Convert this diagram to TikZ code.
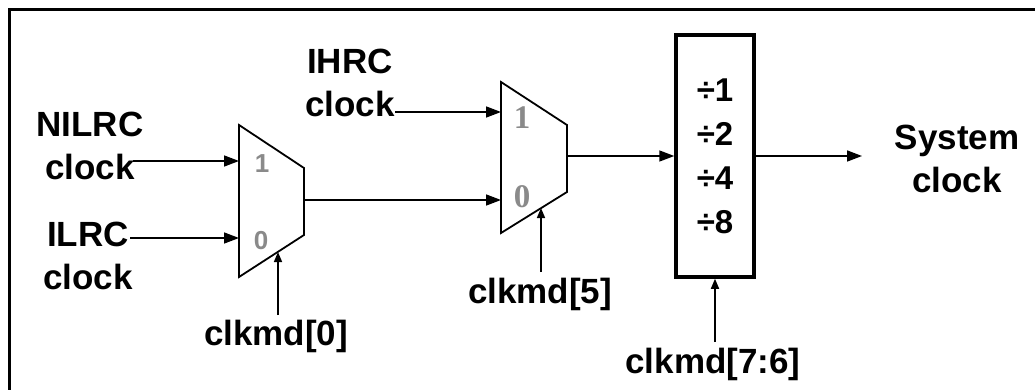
\documentclass[tikz,border=0pt]{standalone}
\usepackage{fontspec}
\setmainfont{Liberation Sans}
\newfontfamily\serifnum{Liberation Serif}
\usetikzlibrary{arrows.meta}
\definecolor{pingrey}{HTML}{8A8A8A}
\begin{document}
\begin{tikzpicture}[x=1pt,y=-1pt,
  wire/.style={line width=1.6pt,-{Triangle[length=15pt,width=11pt]}},
  selwire/.style={line width=1.6pt,-{Triangle[length=10pt,width=8pt]}},
  muxshape/.style={line width=1.8pt, line join=miter},
  lbl/.style={font=\fontsize{35}{43}\selectfont\bfseries, align=center, inner sep=0pt},
  pin/.style={font=\fontsize{26}{26}\selectfont\bfseries, text=pingrey, inner sep=0pt},
  pinserif/.style={font=\serifnum\bfseries\fontsize{33}{33}\selectfont, text=pingrey, inner sep=0pt},
  divbox/.style={draw, line width=3.5pt, minimum width=78pt, minimum height=242pt, inner sep=0pt, align=center, font=\fontsize{33}{44}\selectfont\bfseries}
]
\useasboundingbox (0,0) rectangle (1035,390);
% outer frame (cut off at right and bottom)
\begin{scope}
  \clip (0,0) rectangle (1035,390);
  \draw[line width=3pt] (9,10) rectangle (1050,405);
\end{scope}

% mux 1
\coordinate (m1tl) at (239,125);
\coordinate (m1tr) at (304,168);
\coordinate (m1br) at (304,235);
\coordinate (m1bl) at (239,277);
\draw[muxshape] (m1tl) -- (m1tr) -- (m1br) -- (m1bl) -- cycle;
\node[pin] (m1p1) at (262,163.5) {1};
\node[pin] (m1p0) at (261,241) {0};
\coordinate (m1in1) at (239,161);
\coordinate (m1in0) at (239,238);
\coordinate (m1out) at (304,200);
\coordinate (m1sel) at (278,252);

% mux 2
\coordinate (m2tl) at (501,82);
\coordinate (m2tr) at (567,125);
\coordinate (m2br) at (567,192);
\coordinate (m2bl) at (501,233);
\draw[muxshape] (m2tl) -- (m2tr) -- (m2br) -- (m2bl) -- cycle;
\node[pinserif] (m2p1) at (522,117.5) {1};
\node[pinserif] (m2p0) at (522,197) {0};
\coordinate (m2in1) at (501,112);
\coordinate (m2in0) at (501,200);
\coordinate (m2out) at (567,156);
\coordinate (m2sel) at (541,208);

% divider
\node[divbox] (div) at (715,156) {÷1\\÷2\\÷4\\÷8};

% labels
\node[lbl] (nilrc) at (90,146) {NILRC\\clock};
\node[lbl] (ilrc) at (88,256) {ILRC\\clock};
\node[lbl] (ihrc) at (350,82.5) {IHRC\\clock};
\node[lbl] (sys) at (957,159) {System\\clock};
\node[lbl, anchor=base] (s0) at (276,345) {clkmd[0]};
\node[lbl, anchor=base] (s5) at (540,303) {clkmd[5]};
\node[lbl, anchor=base] (s76) at (713,373) {clkmd[7:6]};

% wire ends
\coordinate (nilrcend) at (133,161);
\coordinate (ilrcend) at (130,238);
\coordinate (ihrcend) at (395,112);
\coordinate (sysend) at (862,156);
\coordinate (s0end) at (278,315);
\coordinate (s5end) at (541,272);
\coordinate (s76end) at (715,342);

% connectors
\draw[wire] (nilrcend) -- (m1in1);
\draw[wire] (ilrcend) -- (m1in0);
\draw[wire] (m1out) -- (m2in0);
\draw[wire] (ihrcend) -- (m2in1);
\draw[wire] (m2out) -- (div.west);
\draw[wire] (div.east) -- (sysend);
\draw[selwire] (s0end) -- (m1sel);
\draw[selwire] (s5end) -- (m2sel);
\draw[selwire] (s76end) -- (div.south);
\end{tikzpicture}
\end{document}
